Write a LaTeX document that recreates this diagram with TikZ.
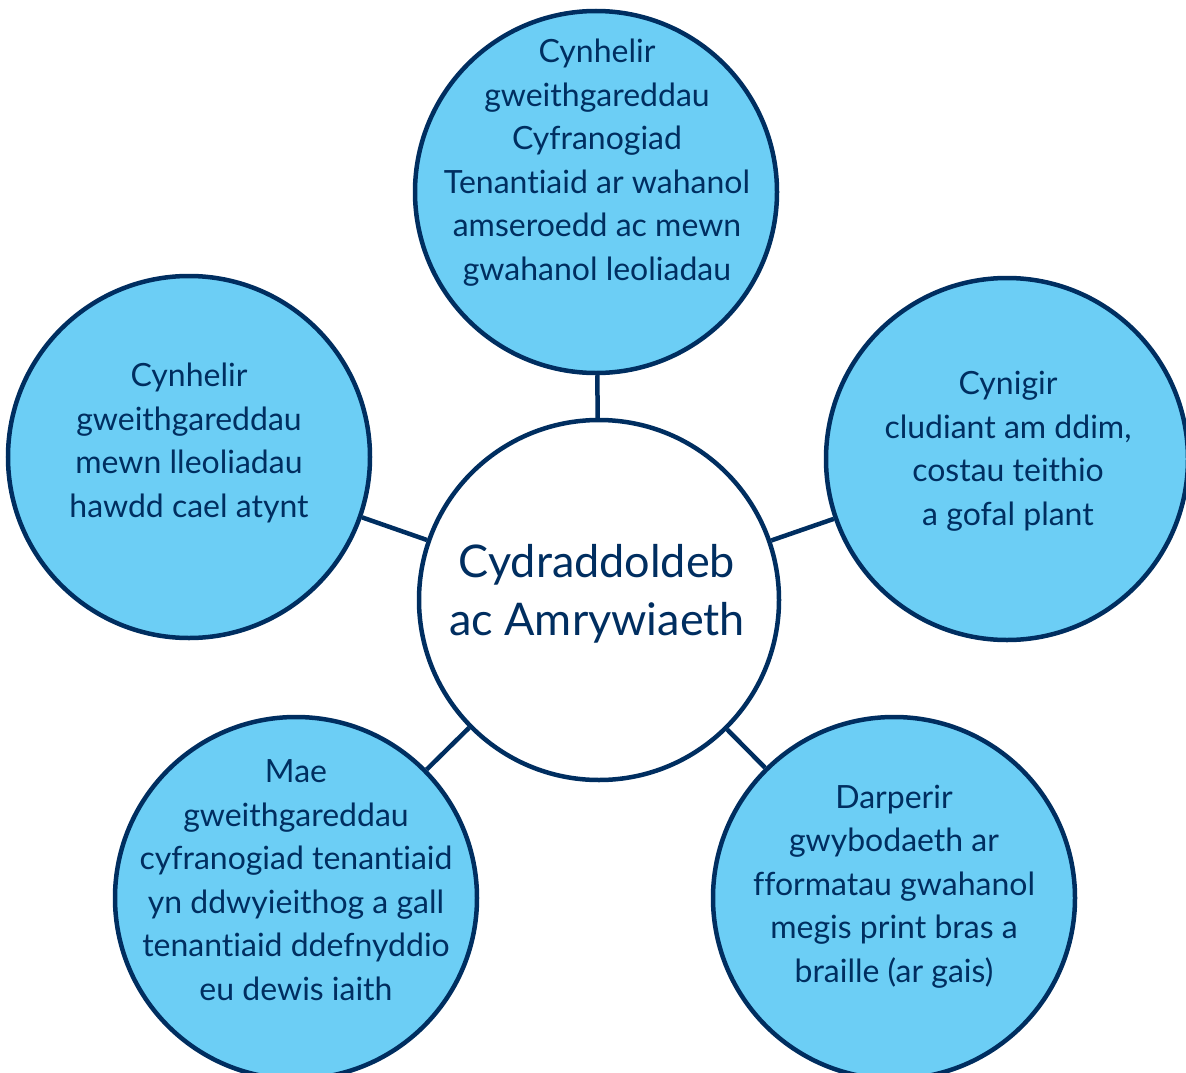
\documentclass[tikz,border=0pt]{standalone}
\usepackage{fontspec}
\setmainfont{Lato}[Ligatures={CommonOff}]
\definecolor{navy}{RGB}{0,46,96}
\definecolor{skyfill}{RGB}{108,206,245}
\begin{document}
\begin{tikzpicture}[x=1pt,y=-1pt,
  bubble/.style={circle, draw=navy, line width=4.5pt, fill=skyfill, minimum size=362pt, inner sep=0pt},
  hub/.style={bubble, fill=white, minimum size=360pt},
  txt/.style={text=navy, align=center, font=\fontsize{32}{43.5}\selectfont, inner sep=0pt, anchor=base},
  hubtxt/.style={txt, font=\fontsize{45}{58}\selectfont},
  link/.style={draw=navy, line width=4.5pt}]
\useasboundingbox (0,0) rectangle (1186,1073);
\clip (0,0) rectangle (1186,1073);
\node[hub] (hub) at (599,600) {};
\node[bubble] (top) at (596,192) {};
\node[bubble] (left) at (189,457) {};
\node[bubble] (right) at (1007,459) {};
\node[bubble] (bl) at (296,898) {};
\node[bubble] (br) at (894,898) {};
\draw[link] (hub) -- (top);
\draw[link] (hub) -- (left);
\draw[link] (hub) -- (right);
\draw[link] (hub) -- (bl);
\draw[link] (hub) -- (br);
\node[hubtxt] (hubt) at (597,635) {Cydraddoldeb\\ac Amrywiaeth};
\node[txt] (topt) at (597,280) {Cynhelir\\gweithgareddau\\Cyfranogiad\\Tenantiaid ar wahanol\\amseroedd ac mewn\\gwahanol leoliadau};
\node[txt] (leftt) at (189,517) {Cynhelir\\gweithgareddau\\mewn lleoliadau\\hawdd cael atynt};
\node[txt] (rightt) at (1008,525) {Cynigir\\cludiant am ddim,\\costau teithio\\a gofal plant};
\node[txt] (blt) at (296,1000) {Mae\\gweithgareddau\\cyfranogiad tenantiaid\\yn ddwyieithog a gall\\tenantiaid ddefnyddio\\eu dewis iaith};
\node[txt] (brt) at (894,982) {Darperir\\gwybodaeth ar\\fformatau gwahanol\\megis print bras a\\braille (ar gais)};
\end{tikzpicture}
\end{document}
